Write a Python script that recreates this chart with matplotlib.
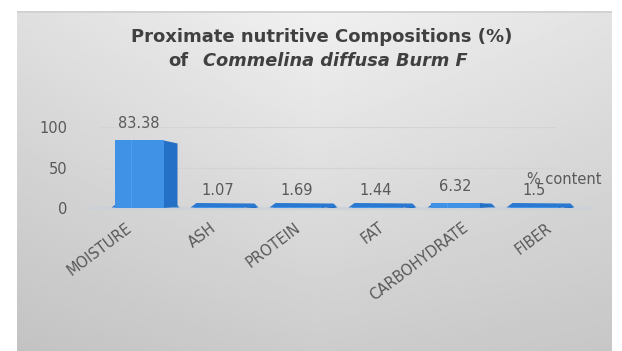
import numpy as np
import matplotlib
matplotlib.use("Agg")
import matplotlib.pyplot as plt
from matplotlib.patches import Polygon, Rectangle
from matplotlib.transforms import blended_transform_factory, offset_copy

categories = ["MOISTURE", "ASH", "PROTEIN", "FAT", "CARBOHYDRATE", "FIBER"]
values = [83.38, 1.07, 1.69, 1.44, 6.32, 1.5]
value_labels = ["83.38", "1.07", "1.69", "1.44", "6.32", "1.5"]
yticks = [0, 50, 100]
series_name = "% content"

W, H = 622, 351
DPI = 100
FONT = "DejaVu Sans"
TXT = "#595959"

fig = plt.figure(figsize=(W / DPI, H / DPI), dpi=DPI)
fig.patch.set_facecolor("white")

def px_box(x0, y0_top, x1, y1_top):
    return [x0 / W, 1 - y1_top / H, (x1 - x0) / W, (y1_top - y0_top) / H]

# chart area with a soft grey gradient
bg = fig.add_axes(px_box(17, 11, 612, 351))
ny, nx = 120, 240
yy, xx = np.mgrid[0:1:ny * 1j, 0:1:nx * 1j]
shade = 0.95 - 0.14 * yy - 0.06 * np.abs(2 * xx - 1) * (1 - 0.5 * yy) - 0.015 * (1 - xx)
bg.imshow(shade, cmap="gray", vmin=0, vmax=1, aspect="auto",
          extent=[0, 1, 0, 1], interpolation="bilinear")
bg.plot([0, 1], [0.997, 0.997], color="#cfcfcf", lw=1.2, transform=bg.transAxes)
bg.set_axis_off()

# plotting axes
step = 79.0
x_first = 139.0
left_px = x_first - step / 2
ax = fig.add_axes(px_box(left_px, 127, left_px + step * 6, 208))
ax.set_facecolor("none")
ax.set_xlim(-0.5, 5.5)
ax.set_ylim(0, 100)
for s in ax.spines.values():
    s.set_visible(False)

# data units per pixel
ux = 6.0 / (step * 6)
uy = 100.0 / 81.0

# gridlines
for t in yticks[1:]:
    ax.axhline(t, xmin=0.0, xmax=0.96, color="#d4d4d4", lw=0.9, zorder=0)

# floor band
ax.axhline(0, xmin=-0.02, xmax=1.04, color="#cbd2da", lw=2.5, alpha=0.8,
           clip_on=False, zorder=1)

pos = np.arange(len(categories))
bw = 49 * ux
front = "#3f92e6"
light = "#4f9fee"
side = "#2470c6"
plate = "#2a78d0"
dx = 14 * ux
for x, v in zip(pos, values):
    x0 = x - bw / 2
    x1 = x0 + bw
    # base plate of the 3-D column
    ax.add_patch(Polygon([(x0 - 3 * ux, 0.5 * uy), (x1 + dx + 2 * ux, 0.5 * uy),
                          (x1 + dx - 2 * ux, 4.5 * uy), (x0 + 3 * ux, 5 * uy)],
                         closed=True, color=plate, lw=0, zorder=2))
    # side face
    ax.add_patch(Polygon([(x1, 0), (x1, v), (x1 + dx, v - 3 * uy),
                          (x1 + dx, 1.5 * uy)], closed=True, color=side,
                         lw=0, zorder=3))
    # front face
    ax.bar(x0, v, width=bw, align="edge", color=front, lw=0, zorder=4)
    ax.add_patch(Rectangle((x0 + bw * 0.34, 0), 1.2 * ux, v, color=light,
                           lw=0, zorder=5))

for i, (x, v) in enumerate(zip(pos, values)):
    ax.annotate(value_labels[i], (x, v), xytext=(0, 12),
                textcoords="offset pixels", ha="center", va="baseline",
                fontsize=10.5, color=TXT, family=FONT, zorder=6)

# y axis
ax.set_yticks(yticks)
ax.set_yticklabels([str(t) for t in yticks], fontsize=10.5, color=TXT, family=FONT)
ax.tick_params(axis="y", length=0, pad=23)

# x axis: rotated category names
ax.set_xticks(pos)
ax.set_xticklabels([])
ax.tick_params(axis="x", length=0)
xtrans = blended_transform_factory(ax.transData, ax.transAxes)
for i, (x, name) in enumerate(zip(pos, categories)):
    tr = offset_copy(xtrans, fig=fig, x=-13 + 5 * i, y=-12, units="dots")
    ax.text(x, 0, name, transform=tr, rotation=37, rotation_mode="anchor",
            ha="right", va="top", fontsize=10.5, color=TXT, family=FONT)

# series name
fig.text(527 / W, 1 - 180 / H, series_name, fontsize=10.5, color=TXT,
         family=FONT, ha="left", va="center")

# title
TCOL = "#404040"
fig.text(322 / W, 1 - 37 / H, "Proximate nutritive Compositions (%)",
         fontsize=13, fontweight="bold", color=TCOL, family=FONT,
         ha="center", va="center")
fig.text(168 / W, 1 - 61 / H, "of", fontsize=13, fontweight="bold",
         color=TCOL, family=FONT, ha="left", va="center")
fig.text(203 / W, 1 - 61 / H, "Commelina diffusa Burm F", fontsize=12.8,
         fontweight="bold", style="italic", color=TCOL, family=FONT,
         ha="left", va="center")

fig.savefig("out.png", dpi=DPI)
